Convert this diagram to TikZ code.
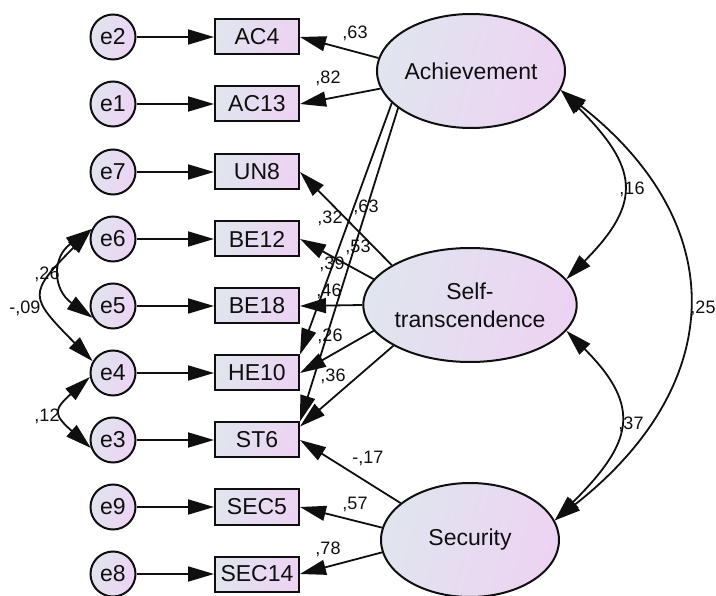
\documentclass[tikz,border=0pt]{standalone}
\usepackage{fontspec}
\setmainfont{Liberation Sans}
\usetikzlibrary{shapes.geometric,arrows.meta}
\definecolor{fillA}{RGB}{224,229,238}
\definecolor{fillB}{RGB}{237,211,243}
\definecolor{ink}{RGB}{15,15,15}
\begin{document}
\begin{tikzpicture}[x=1pt,y=-1pt,
  every node/.style={inner sep=0pt,text=ink},
  gradfill/.style={left color=fillA,right color=fillB,shading angle=75},
  latent/.style={ellipse,draw=ink,line width=2pt,gradfill,minimum width=178pt,
    minimum height=114pt,align=center,font=\fontsize{23}{28}\selectfont},
  obs/.style={rectangle,draw=ink,line width=2pt,gradfill,minimum width=84pt,
    minimum height=35pt,font=\fontsize{23}{26}\selectfont},
  err/.style={circle,draw=ink,line width=2pt,gradfill,minimum size=45pt,
    font=\fontsize{23}{26}\selectfont},
  tip/.tip={Triangle[length=26pt,width=15pt]},
  path/.style={draw=ink,line width=1.8pt,-tip},
  cov/.style={draw=ink,line width=1.8pt,tip-tip},
  lbl/.style={font=\fontsize{18}{20}\selectfont}]

\useasboundingbox (0,0) rectangle (716,596);

% error terms
\node[err] (e2) at (113,37)  {e2};
\node[err] (e1) at (113,104) {e1};
\node[err] (e7) at (113,172) {e7};
\node[err] (e6) at (113,239) {e6};
\node[err] (e5) at (113,306) {e5};
\node[err] (e4) at (113,373) {e4};
\node[err] (e3) at (113,440) {e3};
\node[err] (e9) at (113,507) {e9};
\node[err] (e8) at (113,574) {e8};

% observed indicators
\node[obs] (ac4)   at (257,37)  {AC4};
\node[obs] (ac13)  at (257,104) {AC13};
\node[obs] (un8)   at (257,172) {UN8};
\node[obs] (be12)  at (257,239) {BE12};
\node[obs] (be18)  at (257,306) {BE18};
\node[obs] (he10)  at (257,373) {HE10};
\node[obs] (st6)   at (257,440) {ST6};
\node[obs] (sec5)  at (257,507) {SEC5};
\node[obs] (sec14) at (257,574) {SEC14};

% latent factors
\node[latent] (ach)  at (471,71)  {Achievement};
\node[latent] (self) at (470,305) {Self-\\transcendence};
\node[latent] (sec)  at (470,540) {Security};

% error paths
\foreach \e/\o in {e2/ac4,e1/ac13,e7/un8,e6/be12,e5/be18,e4/he10,e3/st6,e9/sec5,e8/sec14}
  \draw[path] (\e) -- (\o);

% loadings
\draw[path] (ach.172) -- (ac4.east);
\draw[path] (ach.191) -- (ac13.east);
\draw[path] (ach.202) -- (he10.north east);
\draw[path] (ach.207) -- (st6.north east);
\draw[path] (self.153) -- (un8.east);
\draw[path] (self.165) -- (be12.east);
\draw[path] (self.180) -- (be18.east);
\draw[path] (self.195) -- (he10.east);
\draw[path] (self.208) -- ([yshift=-5pt]st6.north east);
\draw[path] (sec.152) -- (st6.east);
\draw[path] (sec.172) -- (sec5.east);
\draw[path] (sec.188) -- (sec14.east);

% factor covariances
\draw[cov] (ach.-12.5) .. controls +(77,77) and +(77,-77) .. (self.15);
\draw[cov] (self.-15) .. controls +(77,77) and +(77,-77) .. (sec.13);
\draw[cov] (ach.-12.5) .. controls +(172,135) and +(172,-135) .. (sec.13);

% error covariances
\draw[cov] (e6.155) .. controls +(-40,28) and +(-40,-28) .. (e5.210);
\draw[cov] (e6.155) .. controls +(-64,65) and +(-64,-65) .. (e4.150);
\draw[cov] (e4.190) .. controls +(-37,33) and +(-37,-33) .. (e3.200);

% estimates
\node[lbl] (l1)  at (355,33)  {,63};
\node[lbl] (l2)  at (328,78)  {,82};
\node[lbl] (l3)  at (330,218) {,32};
\node[lbl] (l4)  at (366,207) {,63};
\node[lbl] (l5)  at (358,247) {,53};
\node[lbl] (l6)  at (332,264) {,39};
\node[lbl] (l7)  at (329,291) {,46};
\node[lbl] (l8)  at (330,336) {,26};
\node[lbl] (l9)  at (333,376) {,36};
\node[lbl] (l10) at (368,458) {-,17};
\node[lbl] (l11) at (355,504) {,57};
\node[lbl] (l12) at (328,549) {,78};
\node[lbl] (l13) at (632,189) {,16};
\node[lbl] (l14) at (703,308) {,25};
\node[lbl] (l15) at (631,424) {,37};
\node[lbl] (l16) at (47,274)  {,26};
\node[lbl] (l17) at (25,308)  {-,09};
\node[lbl] (l18) at (47,416)  {,12};
\end{tikzpicture}
\end{document}
